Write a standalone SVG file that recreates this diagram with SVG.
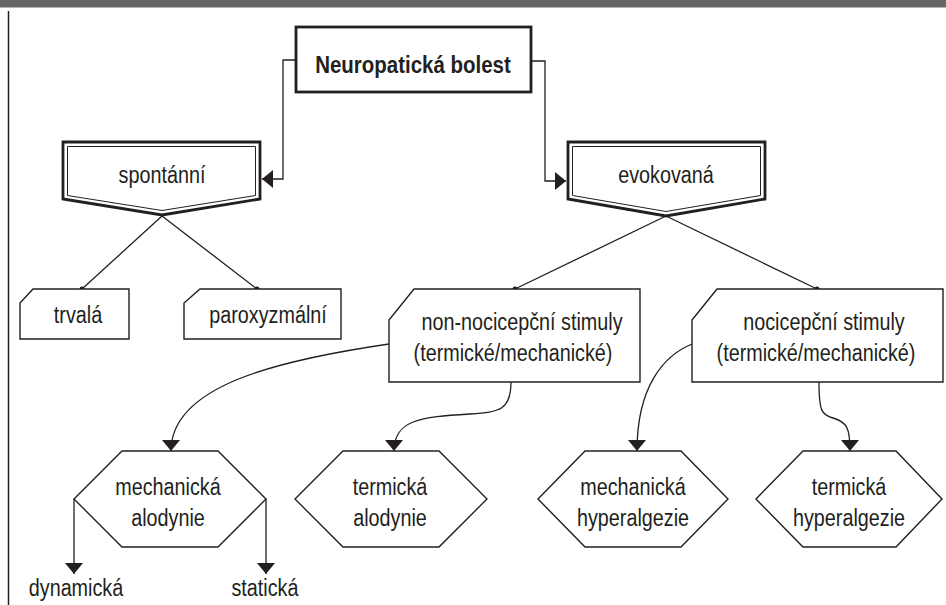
<svg xmlns="http://www.w3.org/2000/svg" width="946" height="605" viewBox="0 0 946 605">
<style>
.t{font-family:"Liberation Sans",Arial,sans-serif;font-size:23px;fill:#231f20;text-anchor:middle}
.b{font-weight:bold}
.ln{fill:none;stroke:#231f20;stroke-width:1.3}
.box{fill:#fff;stroke:#231f20;stroke-width:1.4}
.thick{fill:#fff;stroke:#231f20;stroke-width:2.8}
.inner{fill:none;stroke:#231f20;stroke-width:1}
</style>
<defs>
<marker id="arr" markerUnits="userSpaceOnUse" markerWidth="12" markerHeight="18" refX="11" refY="9" orient="auto"><path d="M0,0 L11,9 L0,18 z" fill="#231f20"/></marker>
</defs>
<rect x="0" y="0" width="946" height="7.5" fill="#666"/>
<line x1="8.5" y1="11" x2="8.5" y2="605" stroke="#231f20" stroke-width="1.5"/>

<g id="connectors">
<path class="ln" d="M296,60 H283 V179 H262" marker-end="url(#arr)"/>
<path class="ln" d="M531,61 H545 V181 H566" marker-end="url(#arr)"/>
<path class="ln" d="M162,216 L82,289 M162,216 L257,289"/>
<path class="ln" d="M666,216 L515,289 M666,216 L817,289"/>
<circle cx="82" cy="289" r="2.5" fill="#231f20"/>
<circle cx="257" cy="289" r="2.5" fill="#231f20"/>
<circle cx="515" cy="289" r="2.5" fill="#231f20"/>
<circle cx="817" cy="289" r="2.5" fill="#231f20"/>
<path class="ln" d="M389,344 C280,360 171,385 171,451" marker-end="url(#arr)"/>
<path class="ln" d="M511,382 C511,410 500,412 470,414 C420,417 394,420 394,451" marker-end="url(#arr)"/>
<path class="ln" d="M692,344 C665,355 637,385 637,451" marker-end="url(#arr)"/>
<path class="ln" d="M819,382 C819,412 822,415 833,418 C847,422 850,428 850,451" marker-end="url(#arr)"/>
<path class="ln" d="M74,499 V574" marker-end="url(#arr)"/>
<path class="ln" d="M266,499 V574" marker-end="url(#arr)"/>
</g>

<g id="n-root">
<rect class="thick" x="296" y="27" width="235" height="65"/>
<text class="t b" transform="translate(413,73) scale(0.89,1)">Neuropatická bolest</text>
</g>

<g id="n-spontanni">
<polygon class="thick" points="63,142 260,142 260,199 162,215 63,199"/>
<polygon class="inner" points="67.5,146.5 255.5,146.5 255.5,195.5 162,210.5 67.5,195.5"/>
<text class="t" transform="translate(162,183) scale(0.86,1)">spontánní</text>
</g>

<g id="n-evokovana">
<polygon class="thick" points="568,142 765,142 765,199 666,216 568,199"/>
<polygon class="inner" points="572.5,146.5 760.5,146.5 760.5,195.5 666,211.5 572.5,195.5"/>
<text class="t" transform="translate(666,183) scale(0.86,1)">evokovaná</text>
</g>

<g id="n-trvala">
<polygon class="box" points="33,289 129,289 129,339 20,339 20,303"/>
<text class="t" transform="translate(78,323) scale(0.86,1)">trvalá</text>
</g>

<g id="n-paroxyzmalni">
<polygon class="box" points="200,289 341,289 341,339 184,339 184,303"/>
<text class="t" transform="translate(268,323) scale(0.86,1)">paroxyzmální</text>
</g>

<g id="n-nonnociceptive">
<polygon class="box" points="414,289 640,289 640,382 389,382 389,320"/>
<text class="t" transform="translate(522,330) scale(0.86,1)">non-nocicepční stimuly</text>
<text class="t" transform="translate(513,361) scale(0.86,1)">(termické/mechanické)</text>
</g>

<g id="n-nociceptive">
<polygon class="box" points="717,289 943,289 943,382 692,382 692,320"/>
<text class="t" transform="translate(824,330) scale(0.86,1)">nocicepční stimuly</text>
<text class="t" transform="translate(816,361) scale(0.86,1)">(termické/mechanické)</text>
</g>

<g id="n-mech-alodynie">
<polygon class="box" points="74,499 122,451 218,451 266,499 218,547 122,547"/>
<text class="t" transform="translate(168,495) scale(0.86,1)">mechanická</text>
<text class="t" transform="translate(168,526) scale(0.86,1)">alodynie</text>
</g>

<g id="n-term-alodynie">
<polygon class="box" points="295,499 343,451 439,451 487,499 439,547 343,547"/>
<text class="t" transform="translate(390,495) scale(0.86,1)">termická</text>
<text class="t" transform="translate(390,526) scale(0.86,1)">alodynie</text>
</g>

<g id="n-mech-hyper">
<polygon class="box" points="538,499 585,451 681,451 728,499 681,547 585,547"/>
<text class="t" transform="translate(633,495) scale(0.86,1)">mechanická</text>
<text class="t" transform="translate(633,526) scale(0.86,1)">hyperalgezie</text>
</g>

<g id="n-term-hyper">
<polygon class="box" points="756,499 803,451 896,451 942,499 896,547 803,547"/>
<text class="t" transform="translate(849,495) scale(0.86,1)">termická</text>
<text class="t" transform="translate(849,526) scale(0.86,1)">hyperalgezie</text>
</g>

<g id="n-dynamicka">
<text class="t" transform="translate(76,596) scale(0.86,1)">dynamická</text>
</g>
<g id="n-staticka">
<text class="t" transform="translate(265,596) scale(0.86,1)">statická</text>
</g>
</svg>
